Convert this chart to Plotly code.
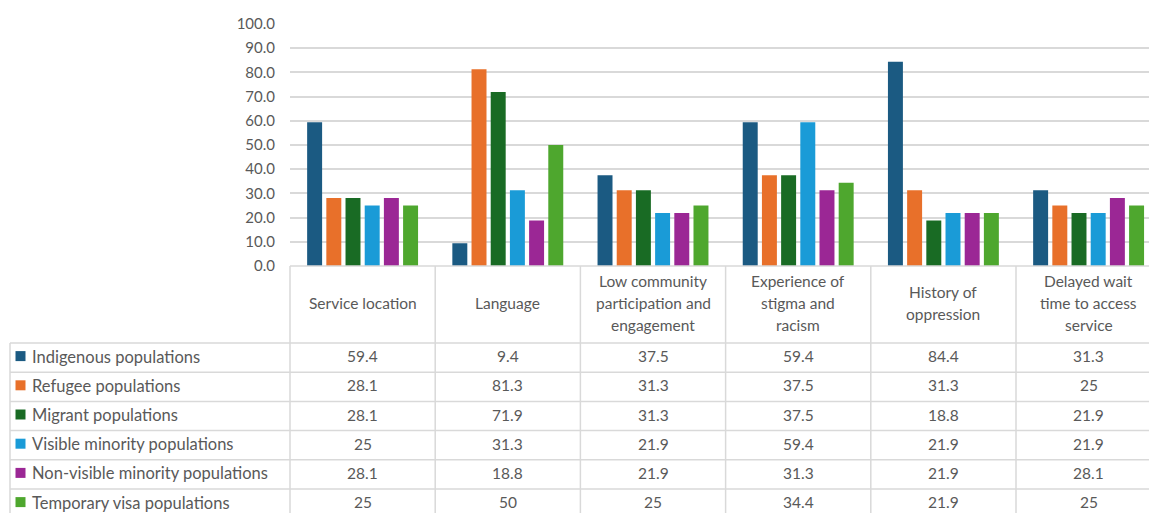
import plotly.graph_objects as go

# ---------------- data ----------------
categories = [
    "Service location",
    "Language",
    "Low community participation and engagement",
    "Experience of stigma and racism",
    "History of oppression",
    "Delayed wait time to access service",
]
header_lines = [
    ["Service location"],
    ["Language"],
    ["Low community", "participation and", "engagement"],
    ["Experience of", "stigma and", "racism"],
    ["History of", "oppression"],
    ["Delayed wait", "time to access", "service"],
]
series_names = [
    "Indigenous populations",
    "Refugee populations",
    "Migrant populations",
    "Visible minority populations",
    "Non-visible minority populations",
    "Temporary visa populations",
]
indigenous = [59.4, 9.4, 37.5, 59.4, 84.4, 31.3]
refugee = [28.1, 81.3, 31.3, 37.5, 31.3, 25]
migrant = [28.1, 71.9, 31.3, 37.5, 18.8, 21.9]
visible_minority = [25, 31.3, 21.9, 59.4, 21.9, 21.9]
non_visible_minority = [28.1, 18.8, 21.9, 31.3, 21.9, 28.1]
temporary_visa = [25, 50, 25, 34.4, 21.9, 25]
series_values = [indigenous, refugee, migrant, visible_minority,
                 non_visible_minority, temporary_visa]
colors = ["#1b5a82", "#e8702a", "#196b24", "#1a9bd7", "#9b2795", "#4ea72e"]

# ---------------- layout geometry ----------------
W, H = 1149, 513
L, T, B_PIX = 290, 24, 266          # plot area left, top, bottom (pixels)
PLOT_W, PLOT_H = W - L, B_PIX - T
CAT_W = 145.2                        # pixel width of one category column
x_max = -0.5 + PLOT_W / CAT_W
TXT = "#595959"
GRID = "#d9d9d9"
FONT = "Lato"


def xp(p):
    return (p - L) / PLOT_W


def yp(p):
    return (B_PIX - p) / PLOT_H


HEADER_BOTTOM = 343
ROW_H = 29.2
n_rows = len(series_names)
row_edges = [HEADER_BOTTOM + k * ROW_H for k in range(n_rows + 1)]
TABLE_LEFT = 10

fig = go.Figure()
for name, vals, col in zip(series_names, series_values, colors):
    fig.add_trace(go.Bar(name=name, x=categories, y=vals,
                         marker=dict(color=col, line=dict(width=0))))

shapes = []
annotations = []
line_style = dict(color=GRID, width=1.5)

# table top border (under the plot)
shapes.append(dict(type="line", xref="paper", yref="paper",
                   x0=0, x1=1.02, y0=yp(B_PIX), y1=yp(B_PIX), line=line_style,
                   layer="above"))
# horizontal row borders
for e in row_edges:
    shapes.append(dict(type="line", xref="paper", yref="paper",
                       x0=xp(TABLE_LEFT), x1=1.02, y0=yp(e), y1=yp(e),
                       line=line_style))
# vertical column borders
for i in range(len(categories)):
    shapes.append(dict(type="line", xref="paper", yref="paper",
                       x0=xp(L + i * CAT_W), x1=xp(L + i * CAT_W),
                       y0=yp(B_PIX), y1=yp(row_edges[-1]), line=line_style))
shapes.append(dict(type="line", xref="paper", yref="paper",
                   x0=xp(TABLE_LEFT), x1=xp(TABLE_LEFT),
                   y0=yp(HEADER_BOTTOM), y1=yp(row_edges[-1]), line=line_style))

# header texts
LINE_SP = 22
header_center = (B_PIX + HEADER_BOTTOM) / 2 - 1.5
for i, lines in enumerate(header_lines):
    n = len(lines)
    for j, ln in enumerate(lines):
        yc = header_center + (j - (n - 1) / 2) * LINE_SP
        annotations.append(dict(x=categories[i], xref="x", y=yp(yc), yref="paper",
                                text=ln, showarrow=False, xanchor="center",
                                yanchor="middle",
                                font=dict(family=FONT, size=15.5, color=TXT)))

# data rows
for r, (name, vals, col) in enumerate(zip(series_names, series_values, colors)):
    yc = (row_edges[r] + row_edges[r + 1]) / 2
    shapes.append(dict(type="rect", xref="paper", yref="paper",
                       x0=xp(15.5), x1=xp(25.5), y0=yp(yc - 6.5), y1=yp(yc + 3.5),
                       fillcolor=col, line=dict(width=0)))
    annotations.append(dict(x=xp(30), xref="paper", y=yp(yc - 1), yref="paper",
                            text=name, showarrow=False, xanchor="left",
                            yanchor="middle",
                            font=dict(family=FONT, size=16.5, color=TXT)))
    for i, v in enumerate(vals):
        annotations.append(dict(x=categories[i], xref="x", y=yp(yc - 1.5), yref="paper",
                                text=f"{v:g}", showarrow=False, xanchor="center",
                                yanchor="middle",
                                font=dict(family=FONT, size=15.5, color=TXT)))

fig.update_layout(
    width=W, height=H,
    margin=dict(l=L, r=0, t=T, b=H - B_PIX, pad=0),
    paper_bgcolor="white", plot_bgcolor="white",
    showlegend=False,
    barmode="group", bargap=0.207, bargroupgap=0.22,
    font=dict(family=FONT, size=15, color=TXT),
    xaxis=dict(type="category", categoryorder="array", categoryarray=categories,
               range=[-0.5, x_max], showticklabels=False, showgrid=False,
               zeroline=False, showline=False, ticks=""),
    yaxis=dict(range=[0, 100], dtick=10, tickformat=".1f", showgrid=True,
               gridcolor=GRID, gridwidth=1.5, zeroline=False, showline=False,
               ticks="", ticklabelstandoff=14,
               tickfont=dict(family=FONT, size=15, color=TXT)),
    shapes=shapes,
    annotations=annotations,
)

fig.write_html("out.html")
